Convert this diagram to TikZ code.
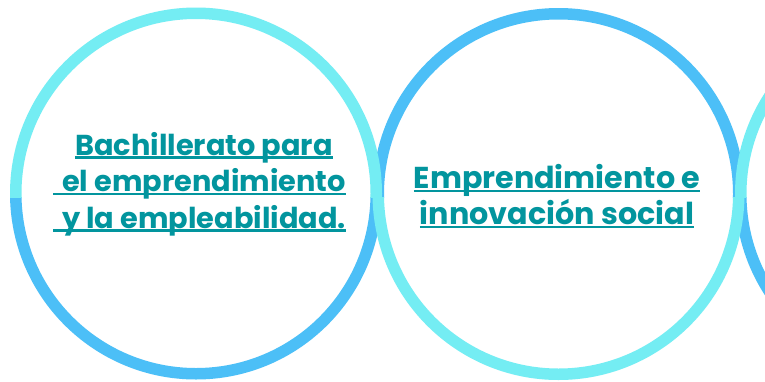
\documentclass[tikz,border=0pt]{standalone}
\usepackage{fontspec}
\setmainfont{Poppins}
\definecolor{ringcyan}{HTML}{74EDF3}
\definecolor{ringblue}{HTML}{4CBFF7}
\definecolor{teal}{HTML}{02959E}
\newcommand\myul[1]{\setbox0\hbox{#1}\rlap{\rule[-3.6pt]{\wd0}{2.4pt}}\box0}
\newcommand\myulsp[1]{\setbox0\hbox{#1}\llap{\rule[-3.6pt]{9pt}{2.4pt}}\rlap{\rule[-3.6pt]{\wd0}{2.4pt}}\box0}
\newcommand\ringhalf[5]{% cx, cy, color, split y, sign (-1 top, +1 bottom)
  \begin{scope}
    \clip (#1-200,#4) rectangle (#1+200,#4+#5*200);
    \fill[#3, even odd rule] (#1,#2) circle (186) (#1,#2) circle (174.5);
  \end{scope}}
\tikzset{label/.style={font=\bfseries\fontsize{28.8pt}{36.5pt}\selectfont, text=teal, align=center, inner sep=0pt},
  labelbig/.style={label, font=\bfseries\fontsize{30.2pt}{36pt}\selectfont}}
\begin{document}
\begin{tikzpicture}[x=1pt,y=-1pt]
\useasboundingbox (0,0) rectangle (765,381);
\clip (0,0) rectangle (765,381);
\fill[white] (0,0) rectangle (765,381);
% blue halves first
\ringhalf{196}{193.5}{ringblue}{197}{1}
\ringhalf{558.5}{194}{ringblue}{197}{-1}
\ringhalf{921}{194}{ringblue}{197}{1}
% cyan halves on top
\ringhalf{196}{193.5}{ringcyan}{197}{-1}
\ringhalf{558.5}{194}{ringcyan}{197}{1}
\ringhalf{921}{194}{ringcyan}{197}{-1}
\node[label] (t1) at (204,184) {\myul{Bachillerato para}\\ \myulsp{el emprendimiento}\\ \myulsp{y la empleabilidad.}};
\node[labelbig] (t2) at (557,196) {\myul{Emprendimiento e}\\ \myul{innovación social}};
\end{tikzpicture}
\end{document}
